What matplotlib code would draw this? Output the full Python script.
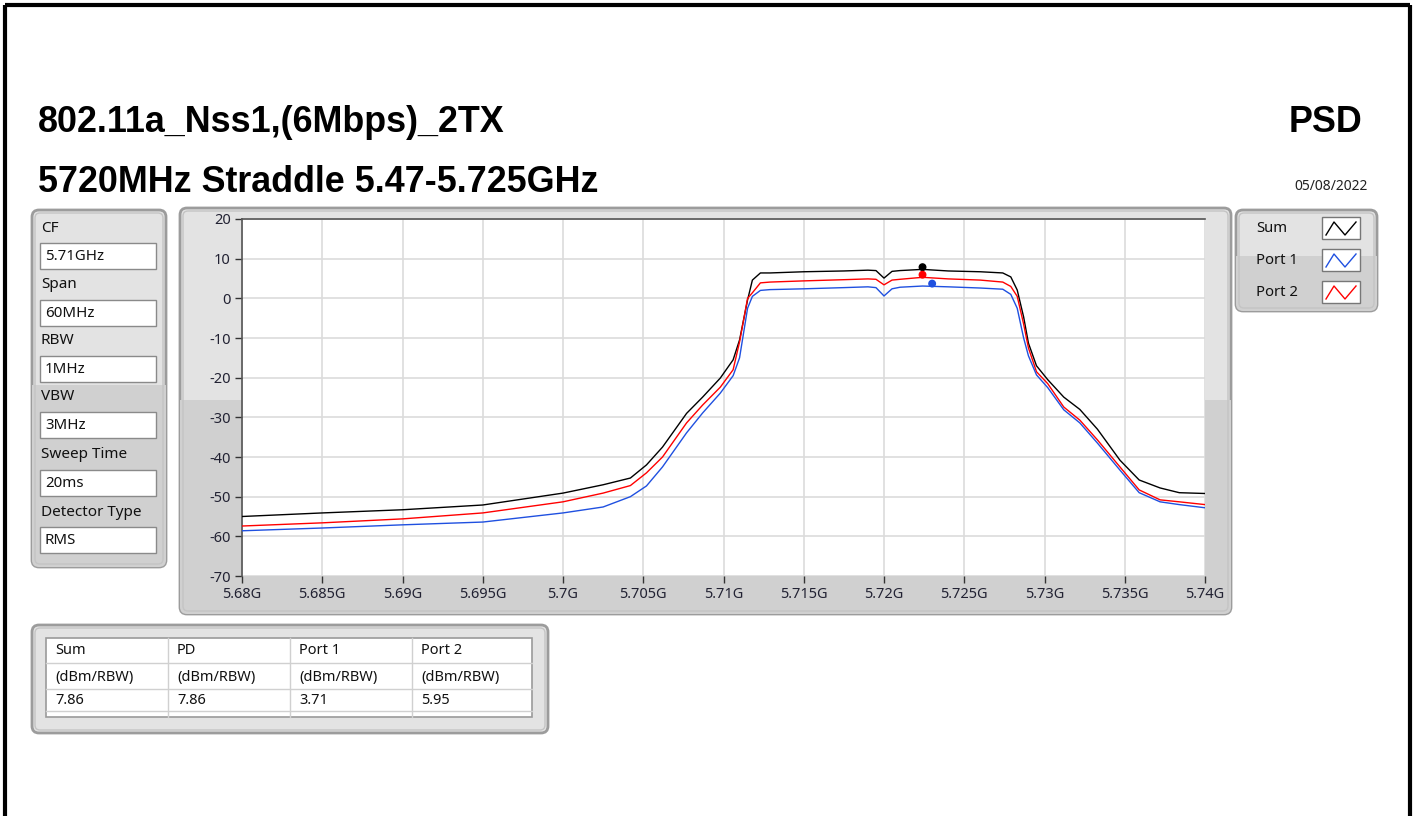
import matplotlib
matplotlib.use('Agg')
import matplotlib.pyplot as plt
from matplotlib.patches import FancyBboxPatch, Rectangle

# ---------------- data ----------------
freq_ghz = [5.680, 5.685, 5.690, 5.695, 5.700, 5.7025, 5.7042, 5.7052, 5.7062, 5.7077,
            5.7087, 5.7098, 5.7106, 5.7110, 5.7115, 5.7118, 5.7123, 5.7129, 5.7150, 5.7175,
            5.7190, 5.7195, 5.7200, 5.7205, 5.7210, 5.7224, 5.7240, 5.7260, 5.7274, 5.7279,
            5.7283, 5.7287, 5.7290, 5.7295, 5.7302, 5.7312, 5.7322, 5.7333, 5.7347, 5.7359,
            5.7372, 5.7384, 5.7400]
sum_dbm = [-55.0, -54.1, -53.3, -52.1, -49.1, -47.0, -45.3, -42.0, -37.5, -29.0,
           -24.9, -20.1, -15.5, -10.5, -0.4, 4.6, 6.4, 6.4, 6.7, 6.9,
           7.1, 7.0, 5.1, 6.8, 7.0, 7.3, 6.9, 6.7, 6.4, 5.4,
           2.1, -4.7, -11.3, -17.0, -20.5, -24.9, -28.0, -33.0, -40.8, -45.8,
           -47.8, -49.0, -49.2]
port1_dbm = [-58.6, -57.9, -57.1, -56.4, -54.1, -52.6, -50.0, -47.3, -42.5, -33.9,
             -28.9, -23.9, -19.5, -15.0, -2.5, 0.5, 2.0, 2.2, 2.4, 2.7,
             2.9, 2.7, 0.6, 2.4, 2.8, 3.1, 2.9, 2.6, 2.3, 1.0,
             -2.5, -10.0, -14.5, -19.3, -22.5, -28.1, -31.4, -36.5, -43.3, -49.0,
             -51.3, -52.0, -52.8]
port2_dbm = [-57.4, -56.6, -55.6, -54.1, -51.3, -49.1, -47.2, -44.0, -40.0, -31.4,
             -26.9, -22.4, -18.0, -11.0, 0.0, 1.4, 3.9, 4.1, 4.4, 4.7,
             4.9, 4.8, 3.4, 4.6, 4.8, 5.3, 4.9, 4.6, 4.1, 3.0,
             0.5, -6.5, -12.5, -18.5, -21.5, -27.4, -30.7, -35.7, -42.5, -48.3,
             -50.8, -51.3, -52.0]

marker_freq = [5.7224, 5.7230, 5.7224]        # Sum, Port 1, Port 2
marker_val = [7.86, 3.71, 5.95]

x_ticks = [5.68, 5.685, 5.69, 5.695, 5.70, 5.705, 5.71, 5.715, 5.72, 5.725, 5.73, 5.735, 5.74]
x_tick_labels = ['5.68G', '5.685G', '5.69G', '5.695G', '5.7G', '5.705G', '5.71G', '5.715G',
                 '5.72G', '5.725G', '5.73G', '5.735G', '5.74G']
y_ticks = [20, 10, 0, -10, -20, -30, -40, -50, -60, -70]

settings_labels = ['CF', 'Span', 'RBW', 'VBW', 'Sweep Time', 'Detector Type']
settings_values = ['5.71GHz', '60MHz', '1MHz', '3MHz', '20ms', 'RMS']

legend_names = ['Sum', 'Port 1', 'Port 2']
legend_colors = ['#000000', '#1f50e0', '#ff0000']

table_header = ['Sum', 'PD', 'Port 1', 'Port 2']
table_units = ['(dBm/RBW)', '(dBm/RBW)', '(dBm/RBW)', '(dBm/RBW)']
table_values = ['7.86', '7.86', '3.71', '5.95']

title1 = '802.11a_Nss1,(6Mbps)_2TX'
title2 = '5720MHz Straddle 5.47-5.725GHz'
title_right = 'PSD'
date_text = '05/08/2022'

# ---------------- figure ----------------
FONT = 'Noto Sans'
TFONT = 'Liberation Sans'
W, H = 1415, 816
fig = plt.figure(figsize=(W / 100, H / 100), dpi=100)
fig.patch.set_facecolor('white')
bg = fig.add_axes([0, 0, 1, 1])
bg.set_xlim(0, W)
bg.set_ylim(H, 0)
bg.axis('off')

# outer black frame
bg.plot([5, 5], [H, 5], color='black', lw=3, solid_capstyle='butt')
bg.plot([5, 1410], [5, 5], color='black', lw=3, solid_capstyle='butt')
bg.plot([1410, 1410], [5, H], color='black', lw=3, solid_capstyle='butt')

# titles
bg.text(38, 123, title1, fontsize=25.8, fontweight='bold', family=TFONT, va='center', ha='left')
bg.text(38, 182, title2, fontsize=25.8, fontweight='bold', family=TFONT, va='center', ha='left')
bg.text(1362, 122, title_right, fontsize=25.8, fontweight='bold', family=TFONT, va='center', ha='right')
bg.text(1368, 187, date_text, fontsize=10, family=FONT, va='center', ha='right', color='#222222')


def panel(x0, y0, x1, y1, split):
    p = FancyBboxPatch((x0, y0), x1 - x0, y1 - y0,
                       boxstyle='round,pad=0,rounding_size=7',
                       fc='#e3e3e3', ec='#9c9c9c', lw=2, zorder=1)
    bg.add_patch(p)
    if split is not None:
        r = Rectangle((x0, split), x1 - x0, y1 - split, fc='#d0d0d0', ec='none', zorder=1.1)
        bg.add_patch(r)
        r.set_clip_path(p)
    p2 = FancyBboxPatch((x0 + 3, y0 + 3), x1 - x0 - 6, y1 - y0 - 6,
                        boxstyle='round,pad=0,rounding_size=5',
                        fc='none', ec='#c4c4c4', lw=1, zorder=1.2)
    bg.add_patch(p2)


# left settings panel
panel(32, 210, 166, 567, 385)
label_y = [228, 285, 341, 397, 455, 512]
for lab, val, ly in zip(settings_labels, settings_values, label_y):
    bg.text(41, ly, lab, fontsize=11, family=FONT, va='center', ha='left', color='#111111', zorder=3)
    bg.add_patch(Rectangle((40, ly + 15), 116, 26, fc='white', ec='#8a8a8a', lw=1, zorder=2))
    bg.text(45, ly + 28.5, val, fontsize=10.8, family=FONT, va='center', ha='left', color='#111111', zorder=3)

# plot panel
panel(180, 208, 1231, 614, 400)

# legend panel
panel(1236, 210, 1377, 311, 256)
leg_y = [228, 260, 292]
for name, col, ly in zip(legend_names, legend_colors, leg_y):
    bg.text(1256, ly, name, fontsize=10.7, family=FONT, va='center', ha='left', color='#111111', zorder=3)
    bg.add_patch(Rectangle((1322, ly - 11), 38, 22, fc='white', ec='#777777', lw=1, zorder=2))
    bg.plot([1326, 1334, 1345, 1356], [ly + 7, ly - 6, ly + 7, ly - 6], color=col, lw=1, zorder=3)

# table panel
panel(32, 625, 548, 733, None)
bg.add_patch(Rectangle((46, 638), 486, 79, fc='white', ec='#9a9a9a', lw=1.2, zorder=2))
col_x = [46, 168, 290, 412, 532]
for cx in col_x[1:-1]:
    bg.plot([cx, cx], [638, 717], color='#d0d0d0', lw=1, zorder=3)
for ry in [663, 689, 711]:
    bg.plot([46, 532], [ry, ry], color='#d0d0d0', lw=1, zorder=3)
rows = [(table_header, 651), (table_units, 677), (table_values, 700)]
for texts, ry in rows:
    for t, cx in zip(texts, col_x[:-1]):
        bg.text(cx + 9, ry, t, fontsize=10.5, family=FONT, va='center', ha='left', color='#111111', zorder=4)

# ---------------- main plot ----------------
L, R, T, B = 242, 1205, 219, 576
ax = fig.add_axes([L / W, 1 - B / H, (R - L) / W, (B - T) / H])
ax.set_zorder(5)
ax.set_facecolor('white')
ax.set_xlim(5.68, 5.74)
ax.set_ylim(-70, 20)
ax.set_xticks(x_ticks)
ax.set_xticklabels(x_tick_labels)
ax.set_yticks(y_ticks)
ax.set_yticklabels([str(v) for v in y_ticks])
ax.grid(True, color='#dcdcdc', lw=1.2)
ax.set_axisbelow(True)
for s in ['bottom', 'right']:
    ax.spines[s].set_visible(False)
for s in ['top', 'left']:
    ax.spines[s].set_color('#555555')
    ax.spines[s].set_linewidth(1.2)
ax.tick_params(axis='both', direction='out', length=5, width=1, color='#333333',
               labelsize=10.5, labelcolor='#222233', pad=3)
for lbl in ax.get_xticklabels() + ax.get_yticklabels():
    lbl.set_family(FONT)

ax.plot(freq_ghz, sum_dbm, color=legend_colors[0], lw=1.0, zorder=3)
ax.plot(freq_ghz, port2_dbm, color=legend_colors[2], lw=1.0, zorder=3)
ax.plot(freq_ghz, port1_dbm, color=legend_colors[1], lw=1.0, zorder=3)
ax.scatter(marker_freq, marker_val, c=legend_colors, s=22, zorder=4)

fig.savefig('out.png', dpi=100, facecolor='white')
